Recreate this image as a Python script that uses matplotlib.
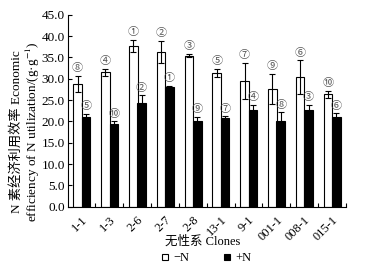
import numpy as np
import matplotlib
matplotlib.use("Agg")
import matplotlib.pyplot as plt
from matplotlib.lines import Line2D

plt.rcParams['font.family'] = ['Liberation Serif', 'Noto Sans CJK SC', 'DejaVu Sans']
plt.rcParams['mathtext.fontset'] = 'stix'

clones = ['1-1', '1-3', '2-6', '2-7', '2-8', '13-1', '9-1', '001-1', '008-1', '015-1']
minus_n = [28.7, 31.5, 37.7, 36.3, 35.4, 31.3, 29.5, 27.6, 30.4, 26.4]
minus_n_err = [1.9, 0.9, 1.5, 2.6, 0.4, 1.0, 4.2, 3.6, 3.9, 0.8]
plus_n = [21.1, 19.3, 24.4, 28.1, 20.2, 20.9, 22.6, 20.2, 22.7, 21.0]
plus_n_err = [0.6, 0.7, 1.7, 0.3, 0.8, 0.3, 1.2, 1.9, 1.1, 0.9]
minus_rank = ['⑧', '④', '①', '②', '③', '⑤', '⑦', '⑨', '⑥', '⑩']
plus_rank = ['⑤', '⑩', '②', '①', '⑨', '⑦', '④', '⑧', '③', '⑥']

fig = plt.figure(figsize=(3.8, 2.74), dpi=100)
ax = fig.add_axes([0.178, 0.2456, 0.732, 0.7004])

x = np.arange(len(clones))
w = 0.31
ax.bar(x - 0.14, minus_n, w, color='white', edgecolor='black', linewidth=0.8,
       yerr=minus_n_err, capsize=2.5, error_kw=dict(elinewidth=0.8, capthick=0.8))
ax.bar(x + 0.16, plus_n, w, color='black', edgecolor='black', linewidth=0.8,
       yerr=plus_n_err, capsize=2.5, error_kw=dict(elinewidth=0.8, capthick=0.8))

for i in range(len(clones)):
    ax.annotate(minus_rank[i], (x[i] - 0.14, minus_n[i] + minus_n_err[i]),
                xytext=(0, 2), textcoords='offset points', ha='center', va='bottom',
                fontsize=8, color='#555555', family=['Noto Sans CJK SC'])
    ax.annotate(plus_rank[i], (x[i] + 0.16, plus_n[i] + plus_n_err[i]),
                xytext=(0, 2), textcoords='offset points', ha='center', va='bottom',
                fontsize=8, color='#555555', family=['Noto Sans CJK SC'])

ax.set_xlim(-0.5, 9.5)
ax.set_ylim(0, 45)
ax.set_yticks(np.arange(0, 46, 5))
ax.set_yticklabels(['%.1f' % v for v in np.arange(0, 46, 5)])
ax.set_xticks(x)
ax.set_xticklabels(clones, rotation=45, ha='right', rotation_mode='anchor')
ax.set_xticks(x + 0.5, minor=True)
ax.tick_params(axis='x', which='major', length=0, labelsize=9, pad=5)
ax.tick_params(axis='x', which='minor', direction='in', length=3, width=0.8)
ax.tick_params(axis='y', direction='in', length=3, width=0.8, labelsize=9.5, pad=2)
for s in ['top', 'right']:
    ax.spines[s].set_visible(False)
for s in ['left', 'bottom']:
    ax.spines[s].set_linewidth(0.8)

fig.text(26 / 380, 1 - 132 / 274, 'N 素经济利用效率 Economic\nefficiency of N utilization/(g·g$^{-1}$)',
         rotation=90, ha='center', va='center', fontsize=9.5, linespacing=1.05,
         multialignment='center')
fig.text(203 / 380, 1 - 242 / 274, '无性系 Clones', ha='center', va='center', fontsize=9)

handles = [Line2D([], [], marker='s', ls='', mfc='white', mec='black', ms=4, mew=0.8),
           Line2D([], [], marker='s', ls='', mfc='black', mec='black', ms=4, mew=0.8)]
fig.legend(handles, ['\u2212N', '+N'], loc='center', bbox_to_anchor=(0.54, 0.058),
           ncol=2, frameon=False, fontsize=9, handletextpad=0.2, columnspacing=2.5,
           handlelength=1.0)

fig.savefig('out.png', dpi=100)
